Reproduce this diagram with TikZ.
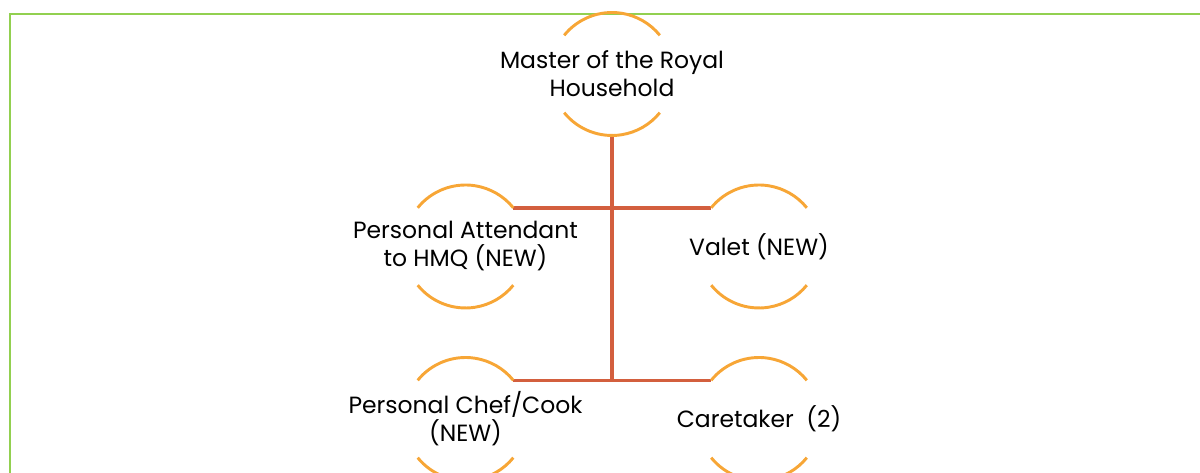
\documentclass[tikz,border=0pt]{standalone}
\usepackage{fontspec}
\setmainfont{Poppins}
\definecolor{framegreen}{HTML}{92D050}
\definecolor{ringorange}{HTML}{F7A636}
\definecolor{linkred}{HTML}{D35F3E}
\begin{document}
\begin{tikzpicture}[x=0.75pt,y=0.75pt,
  ring/.style={circle,draw=none,inner sep=0pt,outer sep=0pt,minimum size=92.25pt},
  ringarc/.style={draw=ringorange,line width=2.2pt},
  link/.style={draw=linkred,line width=2.6pt},
  caption/.style={align=center,font=\fontsize{17.6}{21}\selectfont,text=black,inner sep=0pt}]
\useasboundingbox (0,0) rectangle (1200,473);
\begin{scope}
\clip (0,0) rectangle (1200,473);
\draw[framegreen,line width=2pt] (10,459) rectangle (1220,-20);

% circle placeholders
\node[ring] (master) at (612,399) {};
\node[ring] (attend) at (465.5,226.5) {};
\node[ring] (valet)  at (759,226.5) {};
\node[ring] (chef)   at (465.5,54) {};
\node[ring] (care)   at (759,54) {};

% connectors
\draw[link] (attend.39) -- (valet.141);
\draw[link] (chef.39) -- (care.141);
\draw[link] (master.270) -- (master.270 |- chef.39);

% upper and lower arcs of every circle
\foreach \n in {master,attend,valet,chef,care}{
  \draw[ringarc] (\n.141) arc[start angle=141,end angle=39,radius=46.125pt];
  \draw[ringarc] (\n.219) arc[start angle=219,end angle=321,radius=46.125pt];
}

% labels
\node[caption] (masterT) at (master) {Master of the Royal\\Household};
\node[caption] (attendT) at (attend) {Personal Attendant\\to HMQ (NEW)};
\node[caption] (valetT)  at (valet)  {Valet (NEW)};
\node[caption] (chefT)   at (chef)   {Personal Chef/Cook\\(NEW)};
\node[caption] (careT)   at (care)   {Caretaker\ \ (2)};
\end{scope}
\end{tikzpicture}
\end{document}
